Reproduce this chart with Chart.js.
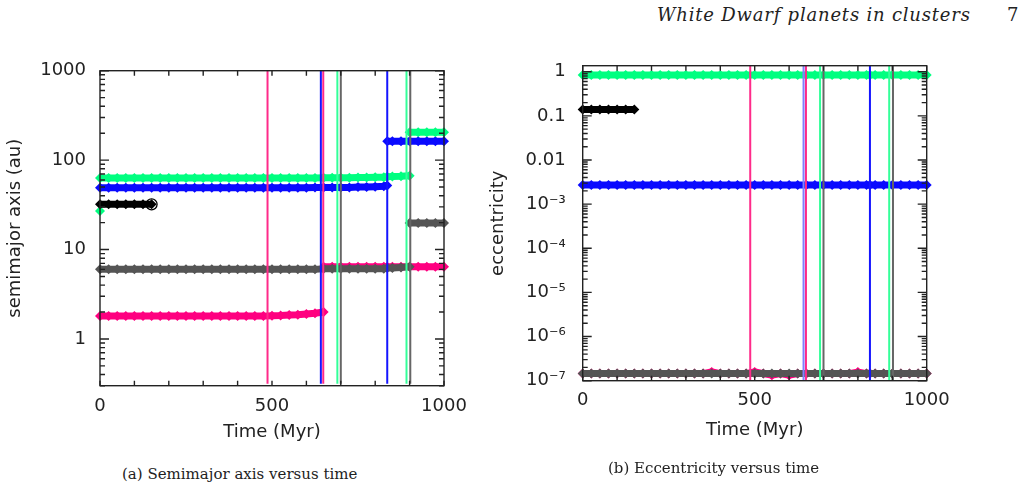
<!DOCTYPE html>
<html>
<head>
<meta charset="utf-8">
<script src="https://cdn.jsdelivr.net/npm/chart.js@4.4.1/dist/chart.umd.min.js"></script>
<style>
  body { margin: 0; width: 1030px; height: 489px; background: #fff; position: relative; overflow: hidden; }
  canvas { position: absolute; }
  #chartA { left: 0; top: 40px; }
  #chartE { left: 480px; top: 40px; }
  .head { position: absolute; top: 5px; font-family: 'DejaVu Serif', serif; font-style: italic; font-size: 18px; letter-spacing: 0.8px; line-height: 20px; color: #222; white-space: nowrap; }
  .cap { position: absolute; font-family: 'DejaVu Serif', serif; font-size: 15px; line-height: 16px; color: #222; white-space: nowrap; }
</style>
</head>
<body>
<div class="head" style="left:657px">White Dwarf planets in clusters</div>
<div class="head" style="left:1007px;font-style:normal">7</div>
<canvas id="chartA" width="470" height="420"></canvas>
<canvas id="chartE" width="480" height="420"></canvas>
<div class="cap" style="left:122px;top:466px">(a) Semimajor axis versus time</div>
<div class="cap" style="left:608px;top:460px">(b) Eccentricity versus time</div>
<script>
// output times (Myr)
const times = [0, 25, 50, 75, 100, 125, 150, 175, 200, 225, 250, 275, 300, 325, 350, 375, 400, 425, 450, 475,
  500, 525, 550, 575, 600, 625, 650, 675, 700, 725, 750, 775, 800, 825, 835, 850, 875, 900, 925, 950, 975, 1000];

// semimajor axis (au)
const greenA     = [63, 63, 63, 63, 63, 63, 63, 63, 63, 63, 63, 63, 63, 63, 63, 63, 63, 63, 63, 63,
  63, 63, 63, 63, 63, 63, 63.5, 63.5, 63.5, 63.5, 64, 64, 64.5, 64.5, 65, 65.5, 66, 67, null, null, null, null];
const greenLateA = [null, null, null, null, null, null, null, null, null, null, null, null, null, null, null, null, null, null, null, null,
  null, null, null, null, null, null, null, null, null, null, null, null, null, null, null, null, null, 205, 205, 205, 205, 205];
const blueA      = [49, 49, 49, 49, 49, 49, 49, 49, 49, 49, 49, 49, 49, 49, 49, 49, 49, 49, 49, 49,
  49, 49, 49, 49, 49, 49.5, 49.5, 49.5, 49.5, 49.5, 50, 50, 50.5, 51, 52, null, null, null, null, null, null, null];
const blueLateA  = [null, null, null, null, null, null, null, null, null, null, null, null, null, null, null, null, null, null, null, null,
  null, null, null, null, null, null, null, null, null, null, null, null, null, null, 163, 163, 163, 163, 163, 163, 163, 163];
const blackA     = [32, 32, 32, 32, 32, 32, 32, null, null, null, null, null, null, null, null, null, null, null, null, null,
  null, null, null, null, null, null, null, null, null, null, null, null, null, null, null, null, null, null, null, null, null, null];
const grayA      = [6.0, 6.0, 6.0, 6.0, 6.0, 6.0, 6.0, 6.0, 6.0, 6.0, 6.0, 6.0, 6.0, 6.0, 6.0, 6.0, 6.0, 6.0, 6.0, 6.0,
  6.0, 6.0, 6.0, 6.0, 6.0, 6.0, 6.1, 6.1, 6.1, 6.1, 6.1, 6.1, 6.1, 6.1, 6.2, 6.2, 6.3, 6.4, null, null, null, null];
const grayLateA  = [null, null, null, null, null, null, null, null, null, null, null, null, null, null, null, null, null, null, null, null,
  null, null, null, null, null, null, null, null, null, null, null, null, null, null, null, null, null, 19.8, 19.8, 19.8, 19.8, 19.8];
const pinkA      = [1.8, 1.8, 1.8, 1.8, 1.8, 1.8, 1.8, 1.8, 1.8, 1.8, 1.8, 1.8, 1.8, 1.8, 1.8, 1.8, 1.8, 1.8, 1.8, 1.8,
  1.82, 1.83, 1.85, 1.87, 1.9, 1.94, 2.0, null, null, null, null, null, null, null, null, null, null, null, null, null, null, null];
const pinkLateA  = [null, null, null, null, null, null, null, null, null, null, null, null, null, null, null, null, null, null, null, null,
  null, null, null, null, null, null, 6.4, 6.4, 6.4, 6.4, 6.4, 6.4, 6.4, 6.4, 6.4, 6.4, 6.4, 6.4, 6.4, 6.4, 6.4, 6.4];
const greenStartT = [0];
const greenStartA = [27];
const blackEndT = [150];
const blackEndA = [32];

// eccentricity
const greenE = [0.84, 0.84, 0.84, 0.84, 0.84, 0.84, 0.84, 0.84, 0.84, 0.84, 0.84, 0.84, 0.84, 0.84, 0.84, 0.84, 0.84, 0.84, 0.84, 0.84,
  0.84, 0.84, 0.84, 0.84, 0.84, 0.84, 0.84, 0.84, 0.84, 0.84, 0.84, 0.84, 0.84, 0.84, 0.84, 0.84, 0.84, 0.84, 0.84, 0.84, 0.84, 0.84];
const blackE = [0.14, 0.14, 0.14, 0.14, 0.14, 0.14, 0.14, null, null, null, null, null, null, null, null, null, null, null, null, null,
  null, null, null, null, null, null, null, null, null, null, null, null, null, null, null, null, null, null, null, null, null, null];
const blueE = [2.7e-3, 2.7e-3, 2.7e-3, 2.7e-3, 2.7e-3, 2.7e-3, 2.7e-3, 2.7e-3, 2.7e-3, 2.7e-3, 2.7e-3, 2.7e-3, 2.7e-3, 2.7e-3,
  2.7e-3, 2.7e-3, 2.7e-3, 2.7e-3, 2.7e-3, 2.7e-3, 2.7e-3, 2.7e-3, 2.7e-3, 2.7e-3, 2.7e-3, 2.7e-3, 2.7e-3, 2.7e-3,
  2.7e-3, 2.7e-3, 2.7e-3, 2.7e-3, 2.7e-3, 2.7e-3, 2.7e-3, 2.7e-3, 2.7e-3, 2.7e-3, 2.7e-3, 2.7e-3, 2.7e-3, 2.7e-3];
const grayE = [1.45e-7, 1.45e-7, 1.45e-7, 1.45e-7, 1.45e-7, 1.45e-7, 1.45e-7, 1.45e-7, 1.45e-7, 1.45e-7, 1.45e-7, 1.45e-7,
  1.45e-7, 1.45e-7, 1.45e-7, 1.45e-7, 1.45e-7, 1.45e-7, 1.45e-7, 1.45e-7, 1.45e-7, 1.45e-7, 1.45e-7, 1.45e-7, 1.45e-7,
  1.45e-7, 1.45e-7, 1.45e-7, 1.45e-7, 1.45e-7, 1.45e-7, 1.45e-7, 1.45e-7, 1.45e-7, 1.45e-7, 1.45e-7, 1.45e-7, 1.45e-7,
  1.45e-7, 1.45e-7, 1.45e-7, 1.45e-7];
const pinkE = [1.45e-7, 1.45e-7, 1.45e-7, 1.45e-7, 1.45e-7, 1.45e-7, 1.45e-7, 1.45e-7, 1.45e-7, 1.45e-7, 1.45e-7, 1.45e-7,
  1.45e-7, 1.45e-7, 1.45e-7, 1.58e-7, 1.45e-7, 1.45e-7, 1.45e-7, 1.45e-7, 1.58e-7, 1.45e-7, 1.33e-7, 1.45e-7, 1.33e-7,
  1.45e-7, 1.45e-7, 1.45e-7, 1.45e-7, 1.45e-7, 1.45e-7, 1.45e-7, 1.57e-7, 1.45e-7, 1.45e-7, 1.45e-7, 1.45e-7, 1.45e-7,
  1.45e-7, 1.45e-7, 1.45e-7, 1.45e-7];

// escape / ejection times, drawn as vertical lines
const escTimes = [487, 642, 649, 690, 700, 835, 891, 902];
const escColorsA = ['#ff2a8a', '#1414ff', '#ff2a8a', '#33ff99', '#666666', '#1414ff', '#33ff99', '#666666'];
const escColorsE = ['#ff2a8a', '#8080ff', '#ff2a8a', '#33ff99', '#666666', '#1414ff', '#33ff99', '#666666'];

const aTickVals = [1, 10, 100, 1000];
const aTickLabels = ['1', '10', '100', '1000'];
const eTickVals = [1e-7, 1e-6, 1e-5, 1e-4, 1e-3, 0.01, 0.1, 1];
const eTickLabels = ['10⁻⁷', '10⁻⁶', '10⁻⁵', '10⁻⁴', '10⁻³', '0.01', '0.1', '1'];

const PINK = '#ff0080', GREEN = '#00ff80', BLUE = '#0a0aff', GRAY = '#555555', BLACK = '#000000';

Chart.defaults.font.family = "'DejaVu Sans', sans-serif";
Chart.defaults.color = '#222';

function band(ts, vals, color) {
  return {
    data: ts.map((t, i) => ({ x: t, y: vals[i] })),
    borderColor: color, backgroundColor: color, borderWidth: 7,
    pointStyle: 'rectRot', pointRadius: 5, pointBorderWidth: 0, pointHoverRadius: 5,
    showLine: true, clip: 10
  };
}

function vlines(ts, colors, lo, hi) {
  return ts.map((t, i) => ({
    data: [{ x: t, y: lo }, { x: t, y: hi }],
    borderColor: colors[i], borderWidth: 2, pointRadius: 0, showLine: true
  }));
}

// box with inward ticks on all four sides
const framePlugin = {
  id: 'frame',
  afterDatasetsDraw(chart) {
    const { ctx, chartArea: a, scales: { x, y } } = chart;
    ctx.save();
    ctx.strokeStyle = '#222';
    ctx.lineWidth = 1.4;
    ctx.strokeRect(a.left, a.top, a.right - a.left, a.bottom - a.top);
    ctx.beginPath();
    for (let t = 0; t <= 1000; t += 100) {
      const px = x.getPixelForValue(t);
      ctx.moveTo(px, a.bottom); ctx.lineTo(px, a.bottom - 5);
      ctx.moveTo(px, a.top); ctx.lineTo(px, a.top + 5);
    }
    const lo = Math.floor(Math.log10(y.min)), hi = Math.ceil(Math.log10(y.max));
    for (let k = lo; k <= hi; k++) {
      for (let m = 1; m < 10; m++) {
        const v = m * Math.pow(10, k);
        if (v < y.min || v > y.max) continue;
        const py = y.getPixelForValue(v);
        const len = m === 1 ? 9 : 5;
        ctx.moveTo(a.left, py); ctx.lineTo(a.left + len, py);
        ctx.moveTo(a.right, py); ctx.lineTo(a.right - len, py);
      }
    }
    ctx.stroke();
    ctx.restore();
  }
};

function makeChart(id, datasets, yCfg, pad, xPad, xTitlePad, yTitle, yTitlePad, yWidth, xHeight) {
  return new Chart(document.getElementById(id), {
    type: 'scatter',
    data: { datasets },
    options: {
      responsive: false,
      animation: false,
      layout: { padding: pad },
      plugins: { legend: { display: false }, tooltip: { enabled: false } },
      scales: {
        x: {
          type: 'linear', min: 0, max: 1000,
          grid: { display: false, drawTicks: false }, border: { display: false },
          ticks: { stepSize: 500, padding: xPad, font: { size: 18 }, maxRotation: 0, callback: v => String(v) },
          title: { display: true, text: 'Time (Myr)', font: { size: 18 }, padding: { top: 0, bottom: xTitlePad } },
          afterFit(s) { s.height = xHeight; s.paddingLeft = 0; s.paddingRight = 0; }
        },
        y: {
          type: 'logarithmic', min: yCfg.min, max: yCfg.max,
          grid: { display: false, drawTicks: false }, border: { display: false },
          afterBuildTicks(s) { s.ticks = yCfg.vals.map(v => ({ value: v })); },
          ticks: {
            autoSkip: false, padding: yCfg.tickPad, font: { size: 18 },
            callback: v => yCfg.labels[yCfg.vals.indexOf(v)]
          },
          title: { display: true, text: yTitle, font: { size: 18 }, padding: { top: yTitlePad, bottom: 0 } },
          afterFit(s) { s.width = yWidth; s.paddingTop = 0; s.paddingBottom = 0; }
        }
      }
    },
    plugins: [framePlugin]
  });
}

const aMin = 0.3162, aMax = 1000;
makeChart('chartA', [
  ...vlines(escTimes, escColorsA, aMin, aMax),
  { ...band(blackEndT, blackEndA, BLACK), pointStyle: 'circle', pointRadius: 5.5, pointBorderWidth: 1.3, backgroundColor: 'rgba(0,0,0,0)', showLine: false },
  band(times, blackA, BLACK),
  band(greenStartT, greenStartA, GREEN),
  band(times, grayA, GRAY),
  band(times, grayLateA, GRAY),
  band(times, greenA, GREEN),
  band(times, greenLateA, GREEN),
  band(times, blueA, BLUE),
  band(times, blueLateA, BLUE),
  band(times, pinkA, PINK),
  band(times, pinkLateA, PINK)
], { min: aMin, max: aMax, vals: aTickVals, labels: aTickLabels, tickPad: 14 },
  { top: 30.7, right: 26, left: 0, bottom: 0 }, 10, 17, 'semimajor axis (au)', 5, 100, 74.3);

const eMin = 1e-7, eMax = 1.37;
makeChart('chartE', [
  ...vlines(escTimes, escColorsE, eMin, eMax),
  band(times, blackE, BLACK),
  band(times, grayE, GRAY),
  band(times, pinkE, PINK),
  band(times, greenE, GREEN),
  band(times, blueE, BLUE)
], { min: eMin, max: eMax, vals: eTickVals, labels: eTickLabels, tickPad: 17 },
  { top: 25.7, right: 33.3, left: 0, bottom: 0 }, 8.5, 19, 'eccentricity', 8, 102.7, 79.3);
</script>
</body>
</html>
